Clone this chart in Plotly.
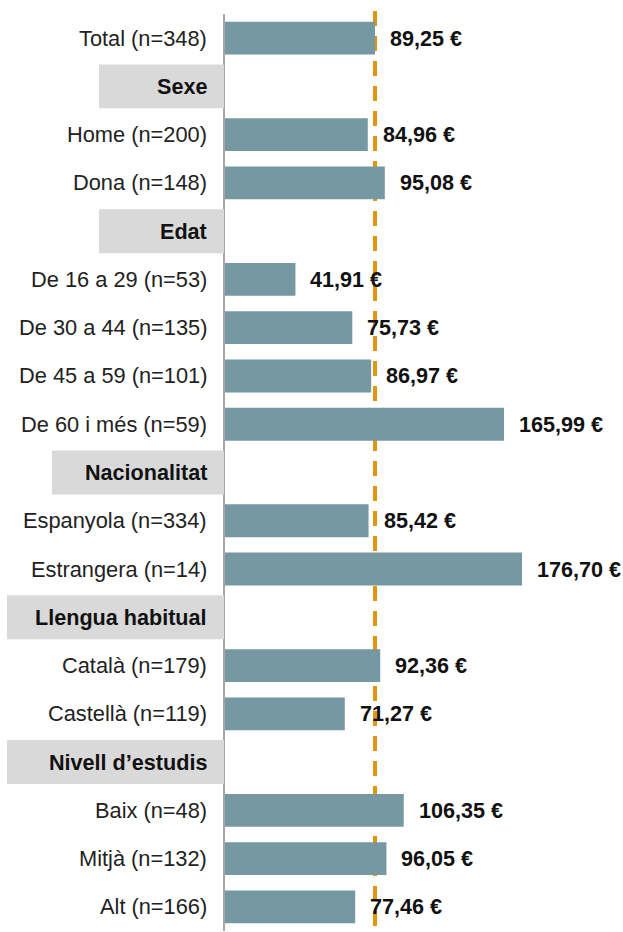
import plotly.graph_objects as go

# Rows from top to bottom; headers have no value
labels = [
    "Total (n=348)", "Sexe", "Home (n=200)", "Dona (n=148)", "Edat",
    "De 16 a 29 (n=53)", "De 30 a 44 (n=135)", "De 45 a 59 (n=101)", "De 60 i més (n=59)",
    "Nacionalitat", "Espanyola (n=334)", "Estrangera (n=14)",
    "Llengua habitual", "Català (n=179)", "Castellà (n=119)",
    "Nivell d’estudis", "Baix (n=48)", "Mitjà (n=132)", "Alt (n=166)",
]
values = [
    89.25, None, 84.96, 95.08, None,
    41.91, 75.73, 86.97, 165.99,
    None, 85.42, 176.70,
    None, 92.36, 71.27,
    None, 106.35, 96.05, 77.46,
]
total_value = values[0]

W, H = 623, 932
M_L, M_R, M_T, M_B = 225, 0, 14.4, 1
n = len(labels)
plot_w = W - M_L - M_R
x_max = 236.8

# left edges (px) of the grey header boxes
header_left = {"Sexe": 99, "Edat": 99, "Nacionalitat": 52,
               "Llengua habitual": 7, "Nivell d’estudis": 7}

BAR = "#7598a2"
ORANGE = "#e0960f"
FONT = "Liberation Sans, Arial, sans-serif"
FS_LABEL = 21.8
FS_HEAD = 21.6
FS_VALUE = 21.6

bar_idx = [i for i, v in enumerate(values) if v is not None]
fig = go.Figure(go.Bar(
    x=[values[i] for i in bar_idx], y=bar_idx, orientation="h",
    width=0.68, marker=dict(color=BAR, line=dict(width=0)),
    hoverinfo="skip",
))

def fmt(v):
    return f"{v:.2f}".replace(".", ",") + " €"

shapes = [dict(
    type="line", xref="x", yref="paper", x0=total_value, x1=total_value,
    y0=1 + 3 / (H - M_T - M_B), y1=-0.01, layer="below",
    line=dict(color=ORANGE, width=4, dash="15px,10px"),
)]
annotations = []
for i, (lab, v) in enumerate(zip(labels, values)):
    if v is None:
        yc = (n - 0.5 - i) / n
        half = 0.455 / n
        shapes.append(dict(
            type="rect", xref="paper", yref="paper",
            x0=(header_left[lab] - M_L) / plot_w, x1=-1 / plot_w,
            y0=yc - half, y1=yc + half, layer="above",
            fillcolor="#d9d9d9", line=dict(width=0),
        ))
        annotations.append(dict(
            x=0, y=i, xref="x", yref="y", xanchor="right", xshift=-16,
            text=f"<b>{lab}</b>", showarrow=False,
            font=dict(family=FONT, size=FS_HEAD, color="#111"),
        ))
    else:
        annotations.append(dict(
            x=0, y=i, xref="x", yref="y", xanchor="right", xshift=-16,
            text=lab, showarrow=False,
            font=dict(family=FONT, size=FS_LABEL, color="#222"),
        ))
        annotations.append(dict(
            x=v, y=i, xref="x", yref="y", xanchor="left", xshift=13,
            text=f"<b>{fmt(v)}</b>", showarrow=False,
            font=dict(family=FONT, size=FS_VALUE, color="#111"),
        ))

fig.update_layout(
    width=W, height=H,
    margin=dict(l=M_L, r=M_R, t=M_T, b=M_B, pad=0),
    paper_bgcolor="white", plot_bgcolor="white",
    showlegend=False, shapes=shapes, annotations=annotations,
    xaxis=dict(range=[0, x_max], visible=False, fixedrange=True),
    yaxis=dict(range=[n - 0.5, -0.5], showticklabels=False, ticks="",
               showgrid=False, zeroline=False, showline=True,
               linecolor="#a6a6a6", linewidth=2, fixedrange=True),
)

fig.write_html("out.html", config={"displayModeBar": False})
